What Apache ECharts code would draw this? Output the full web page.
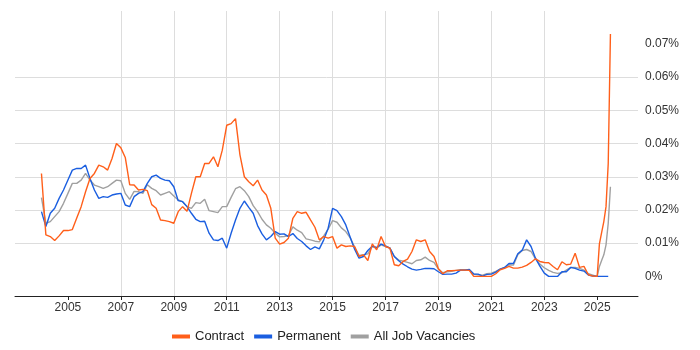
<!DOCTYPE html>
<html>
<head>
<meta charset="utf-8">
<script src="https://cdn.jsdelivr.net/npm/echarts@6/dist/echarts.min.js"></script>
<style>
  html, body { margin: 0; padding: 0; background: #fff; }
  #chart { width: 700px; height: 350px; }
</style>
</head>
<body>
<div id="chart"></div>
<script>
// sample dates (two-monthly, monthly for 2025)
var dates = [
  '2004-01','2004-03','2004-05','2004-07','2004-09','2004-11',
  '2005-01','2005-03','2005-05','2005-07','2005-09','2005-11',
  '2006-01','2006-03','2006-05','2006-07','2006-09','2006-11',
  '2007-01','2007-03','2007-05','2007-07','2007-09','2007-11',
  '2008-01','2008-03','2008-05','2008-07','2008-09','2008-11',
  '2009-01','2009-03','2009-05','2009-07','2009-09','2009-11',
  '2010-01','2010-03','2010-05','2010-07','2010-09','2010-11',
  '2011-01','2011-03','2011-05','2011-07','2011-09','2011-11',
  '2012-01','2012-03','2012-05','2012-07','2012-09','2012-11',
  '2013-01','2013-03','2013-05','2013-07','2013-09','2013-11',
  '2014-01','2014-03','2014-05','2014-07','2014-09','2014-11',
  '2015-01','2015-03','2015-05','2015-07','2015-09','2015-11',
  '2016-01','2016-03','2016-05','2016-07','2016-09','2016-11',
  '2017-01','2017-03','2017-05','2017-07','2017-09','2017-11',
  '2018-01','2018-03','2018-05','2018-07','2018-09','2018-11',
  '2019-01','2019-03','2019-05','2019-07','2019-09','2019-11',
  '2020-01','2020-03','2020-05','2020-07','2020-09','2020-11',
  '2021-01','2021-03','2021-05','2021-07','2021-09','2021-11',
  '2022-01','2022-03','2022-05','2022-07','2022-09','2022-11',
  '2023-01','2023-03','2023-05','2023-07','2023-09','2023-11',
  '2024-01','2024-03','2024-05','2024-07','2024-09','2024-11',
  '2025-01','2025-02','2025-03','2025-04','2025-05','2025-06','2025-07'
];

// values in %
var contract = [
  0.031, 0.0125, 0.012, 0.0108, 0.0122, 0.0138,
  0.0138, 0.0141, 0.0176, 0.021, 0.0255, 0.0295,
  0.031, 0.0335, 0.033, 0.032, 0.0355, 0.040,
  0.0387, 0.0358, 0.0276, 0.0275, 0.026, 0.0262,
  0.0258, 0.0216, 0.0205, 0.017, 0.0168, 0.0165,
  0.016, 0.0195, 0.021, 0.0196, 0.025, 0.030,
  0.030, 0.034, 0.034, 0.036, 0.033, 0.038,
  0.0455, 0.046, 0.0475, 0.0366, 0.030, 0.0285,
  0.0273, 0.029, 0.026, 0.0245, 0.0205, 0.0115,
  0.0097, 0.0102, 0.0115, 0.0175, 0.0195, 0.019,
  0.0193, 0.017, 0.0148, 0.011, 0.012, 0.0115,
  0.012, 0.0085, 0.0095, 0.009, 0.0092, 0.009,
  0.006, 0.0065, 0.0048, 0.0098, 0.008, 0.012,
  0.009, 0.0085, 0.0035, 0.0032, 0.0045, 0.0052,
  0.0075, 0.011, 0.0105, 0.011, 0.0075, 0.006,
  0.0023, 0.0008, 0.0017, 0.0017, 0.0018, 0.0019,
  0.0019, 0.0018, 0, 0, 0, 0,
  0, 0.0008, 0.002, 0.0024, 0.003, 0.0025,
  0.0025, 0.0028, 0.0033, 0.0042, 0.0053, 0.0045,
  0.0042, 0.0041, 0.003, 0.002, 0.0044, 0.0035,
  0.0037, 0.007, 0.0027, 0.003, 0.0005, 0.0001,
  0, 0.0098, 0.0132, 0.0165, 0.021, 0.034, 0.073
];

var permanent = [
  0.0195, 0.015, 0.019, 0.0205, 0.0235, 0.026,
  0.029, 0.032, 0.0325, 0.0325, 0.0335, 0.0295,
  0.026, 0.0235, 0.024, 0.0238, 0.0245, 0.0248,
  0.025, 0.0215, 0.021, 0.024, 0.025, 0.0255,
  0.028, 0.030, 0.0305, 0.0295, 0.029, 0.0288,
  0.027, 0.0228, 0.0225, 0.021, 0.019, 0.0172,
  0.0165, 0.0166, 0.013, 0.011, 0.0108, 0.0115,
  0.0085, 0.013, 0.017, 0.0205, 0.0227, 0.0208,
  0.019, 0.0153, 0.0128, 0.011, 0.012, 0.0135,
  0.0127, 0.0128, 0.012, 0.0129, 0.0114, 0.0105,
  0.0092, 0.0081, 0.0089, 0.0083, 0.011, 0.0145,
  0.0205, 0.0198, 0.018, 0.0155, 0.0118, 0.0082,
  0.0055, 0.006, 0.0078, 0.0091, 0.0087, 0.0097,
  0.0092, 0.0085, 0.006, 0.0047, 0.0037, 0.0029,
  0.0022, 0.0019, 0.0021, 0.0024, 0.0024, 0.0023,
  0.0014, 0.0006, 0.0007, 0.0007, 0.001, 0.0019,
  0.0019, 0.0021, 0.0007, 0.0007, 0.0001, 0.0006,
  0.0007, 0.0013, 0.0022, 0.0027, 0.0039, 0.0039,
  0.0068, 0.0079, 0.011, 0.009, 0.0055, 0.0031,
  0.001, 0, 0, 0, 0.0014, 0.0014,
  0.0027, 0.0024, 0.0019, 0.0016, 0.0004, 0.0001,
  0, 0, 0, 0, 0, 0, null
];

var allJobs = [
  0.0237, 0.016, 0.0165, 0.018, 0.0195, 0.022,
  0.025, 0.028, 0.028, 0.029, 0.031, 0.029,
  0.0275, 0.027, 0.0265, 0.027, 0.028, 0.029,
  0.0288, 0.025, 0.0232, 0.0256, 0.0255, 0.025,
  0.0276, 0.0265, 0.0258, 0.0245, 0.025, 0.0255,
  0.0242, 0.023, 0.0225, 0.021, 0.0205, 0.0222,
  0.022, 0.0232, 0.0198, 0.0195, 0.0192, 0.021,
  0.021, 0.0238, 0.0264, 0.027, 0.0258, 0.024,
  0.0213, 0.0195, 0.0172, 0.0155, 0.0145, 0.013,
  0.0119, 0.012, 0.0123, 0.0149, 0.0139, 0.0132,
  0.0113, 0.011, 0.0106, 0.0104, 0.0122, 0.0142,
  0.0168, 0.0163, 0.0146, 0.0135, 0.0116, 0.0088,
  0.0063, 0.0065, 0.0068, 0.009, 0.0085, 0.0095,
  0.009, 0.0085, 0.006, 0.0049, 0.0046, 0.0042,
  0.0038, 0.0048, 0.005, 0.0058, 0.0048, 0.0042,
  0.0022, 0.0011, 0.0014, 0.0015, 0.0018, 0.002,
  0.002, 0.0019, 0.0007, 0.0005, 0.0004, 0.0008,
  0.001, 0.0015, 0.0022, 0.0026, 0.0035, 0.0034,
  0.0065, 0.0078, 0.0081, 0.0075, 0.0053, 0.0037,
  0.0026, 0.0018, 0.0012, 0.0009, 0.0011, 0.0019,
  0.0027, 0.0027, 0.0024, 0.0019, 0.0008, 0.0004,
  0, 0.003, 0.0048, 0.0065, 0.0095, 0.016, 0.027
];

var yearLabels = ['2005','2007','2009','2011','2013','2015','2017','2019','2021','2023','2025'];
var yLabels = [0, 0.01, 0.02, 0.03, 0.04, 0.05, 0.06, 0.07];

var BASE_YEAR = 2003;

// months since Jan 2003
function monthIdx(d) {
  var p = d.split('-');
  return (parseInt(p[0], 10) - BASE_YEAR) * 12 + parseInt(p[1], 10) - 1;
}

function pairs(vals) {
  return dates.map(function (d, i) {
    return [monthIdx(d), vals[i]];
  });
}

var yearTicks = yearLabels.map(function (y) { return monthIdx(y + '-01'); });

var chart = echarts.init(document.getElementById('chart'));
var font = 'Arial, "Liberation Sans", sans-serif';

chart.setOption({
  animation: false,
  textStyle: { fontFamily: font },
  grid: { left: 15, right: 62, top: 11, bottom: 54, containLabel: false },
  legend: {
    data: ['Contract', 'Permanent', 'All Job Vacancies'],
    left: 172,
    top: 330,
    padding: 0,
    icon: 'rect',
    itemWidth: 18,
    itemHeight: 4,
    itemGap: 10,
    textStyle: { fontSize: 13, color: '#222', fontFamily: font }
  },
  xAxis: {
    type: 'value',
    min: 0,
    max: 282.5,
    axisLine: { onZero: false, lineStyle: { color: '#222', width: 1 } },
    axisTick: { show: true, length: 4, customValues: yearTicks, lineStyle: { color: '#222' } },
    axisLabel: {
      customValues: yearTicks,
      margin: 6,
      fontSize: 12,
      color: '#333',
      fontFamily: font,
      formatter: function (v) { return String(BASE_YEAR + Math.round(v / 12)); }
    },
    splitLine: { show: true, showMinLine: false, showMaxLine: false, lineStyle: { color: '#dddddd', width: 1 } }
  },
  yAxis: {
    type: 'value',
    position: 'right',
    min: -0.0059,
    max: 0.0799,
    axisLine: { show: false },
    axisTick: { show: false, customValues: yLabels },
    axisLabel: {
      customValues: yLabels,
      margin: 7,
      fontSize: 12,
      color: '#333',
      fontFamily: font,
      formatter: function (v) {
        return parseFloat(v.toFixed(2)) + '%';
      }
    },
    splitLine: { show: true, showMinLine: false, showMaxLine: false, lineStyle: { color: '#dddddd', width: 1 } }
  },
  series: [
    {
      name: 'All Job Vacancies',
      type: 'line',
      data: pairs(allJobs),
      showSymbol: false,
      color: '#a0a0a0',
      lineStyle: { color: '#a0a0a0', width: 1.4 },
      z: 2
    },
    {
      name: 'Permanent',
      type: 'line',
      data: pairs(permanent),
      showSymbol: false,
      color: '#1a5ee0',
      lineStyle: { color: '#1a5ee0', width: 1.4 },
      z: 3
    },
    {
      name: 'Contract',
      type: 'line',
      data: pairs(contract),
      showSymbol: false,
      color: '#ff5f1a',
      lineStyle: { color: '#ff5f1a', width: 1.4 },
      z: 4
    }
  ]
});
</script>
</body>
</html>
